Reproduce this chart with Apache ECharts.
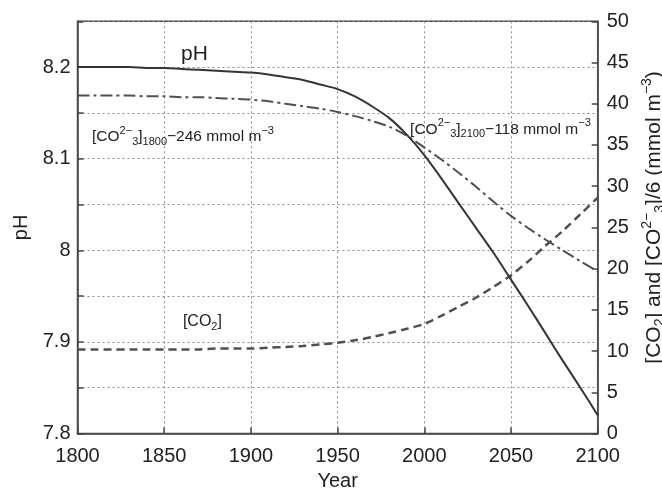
<!DOCTYPE html>
<html>
<head>
<meta charset="utf-8">
<script src="https://cdn.jsdelivr.net/npm/echarts@6/dist/echarts.min.js"></script>
<style>html,body{margin:0;padding:0;background:#fff;}#c{width:662px;height:491px;}</style>
</head>
<body>
<div id="c"></div>
<script>
// ---- data ----
var years = [1800,1810,1820,1830,1840,1850,1860,1870,1880,1890,1900,1910,1920,1930,1940,1950,1960,1970,1980,1990,2000,2010,2020,2030,2040,2050,2060,2070,2080,2090,2100];
var pH = [8.200,8.200,8.200,8.200,8.199,8.199,8.198,8.197,8.196,8.195,8.194,8.192,8.189,8.186,8.181,8.176,8.168,8.157,8.144,8.126,8.104,8.078,8.051,8.024,7.997,7.968,7.939,7.909,7.879,7.850,7.820];
var carbonate6 = [41.0,41.0,41.0,41.0,40.9,40.9,40.8,40.8,40.7,40.6,40.5,40.3,40.0,39.7,39.4,39.0,38.5,37.9,37.2,36.1,34.7,33.2,31.6,29.9,28.1,26.4,24.9,23.5,22.2,20.9,19.7];
var co2 = [10.2,10.2,10.2,10.2,10.2,10.2,10.2,10.2,10.3,10.3,10.3,10.4,10.5,10.6,10.8,11.0,11.3,11.7,12.2,12.7,13.3,14.3,15.4,16.5,17.8,19.2,20.9,22.8,24.6,26.6,28.6];
var xTicks = [1800,1850,1900,1950,2000,2050,2100];

function pairs(v){ return years.map(function(y,i){ return [y, v[i]]; }); }

var FONT = 'Liberation Sans, Arial, sans-serif';
var chart = echarts.init(document.getElementById('c'), null, {renderer:'canvas'});

var supSub = {
  sup: {fontSize: 11, fontFamily: FONT, color:'#222', padding:[0,0,12,0]},
  sub: {fontSize: 11, fontFamily: FONT, color:'#222', padding:[10,0,0,0]}
};
var supSubBig = {
  sup: {fontSize: 14, fontFamily: FONT, color:'#222', padding:[0,0,14,0]},
  sub: {fontSize: 14, fontFamily: FONT, color:'#222', padding:[12,0,0,0]}
};

chart.setOption({
  animation: false,
  backgroundColor: '#fff',
  grid: {left: 77.5, right: 64.3, top: 21.3, bottom: 57.5, containLabel: false, outerBoundsMode: 'none',
         show: true, borderColor: '#444', borderWidth: 1.5, backgroundColor: 'transparent'},
  xAxis: {
    type: 'value', min: 1800, max: 2100, interval: 50,
    name: 'Year', nameLocation: 'middle', nameGap: 37,
    nameTextStyle: {fontSize: 20, fontFamily: FONT, color: '#222'},
    axisLine: {show: true, lineStyle: {color: '#444', width: 1.5}},
    axisTick: {show: true, inside: true, length: 6, lineStyle: {color: '#444', width: 1.5}},
    axisLabel: {fontSize: 20, fontFamily: FONT, color: '#222', margin: 13,
      formatter: function(v){ return xTicks.indexOf(v) >= 0 ? String(v) : ''; }},
    splitLine: {show: true, lineStyle: {color: '#8a8a8a', type: [2,3], width: 1}}
  },
  yAxis: [{
    type: 'value', min: 7.8, max: 8.25, interval: 0.05, position: 'left',
    name: 'pH', nameLocation: 'middle', nameGap: 46,
    nameTextStyle: {fontSize: 20, fontFamily: FONT, color: '#222'},
    axisLine: {show: true, lineStyle: {color: '#444', width: 1.5}},
    axisTick: {show: true, inside: true, length: 6, lineStyle: {color: '#444', width: 1.5}},
    axisLabel: {fontSize: 20, fontFamily: FONT, color: '#222', margin: 7,
      formatter: function(v){
        var t = Math.round(v*10);
        if (Math.abs(v*10 - t) > 1e-6 || v > 8.21) return '';
        var s = (t/10).toFixed(1);
        return s.replace(/\.0$/, '');
      }},
    splitLine: {show: true, lineStyle: {color: '#8a8a8a', type: [2,3], width: 1}}
  }, {
    type: 'value', min: 0, max: 50, interval: 5, position: 'right',
    name: '[CO{sub|2}] and [CO{sup|2−}{sub|3}]/6 (mmol m{sup|−3})',
    nameLocation: 'middle', nameGap: 42,
    nameTextStyle: {fontSize: 21, fontFamily: FONT, color: '#222', rich: supSubBig, padding: [0,0,0,20]},
    axisLine: {show: true, lineStyle: {color: '#444', width: 1.5}},
    axisTick: {show: true, inside: true, length: 6, lineStyle: {color: '#444', width: 1.5}},
    axisLabel: {fontSize: 20, fontFamily: FONT, color: '#222', margin: 9},
    splitLine: {show: false}
  }],
  series: [{
    name: 'pH', type: 'line', yAxisIndex: 0, data: pairs(pH), showSymbol: false, smooth: 0.3,
    lineStyle: {color: '#353535', width: 2}, z: 5
  }, {
    name: 'CO3', type: 'line', yAxisIndex: 1, data: pairs(carbonate6), showSymbol: false, smooth: 0.3,
    lineStyle: {color: '#505050', width: 2, type: [12,4,3,4]}, z: 4
  }, {
    name: 'CO2', type: 'line', yAxisIndex: 1, data: pairs(co2), showSymbol: false, smooth: 0.3,
    lineStyle: {color: '#505050', width: 2.5, type: [8,5]}, z: 4
  }]
});

// annotations positioned in data coordinates
function px(x, y){ return chart.convertToPixel({xAxisIndex:0, yAxisIndex:0}, [x, y]); }
var pPH = px(1859.7, 8.214);
var pL1 = px(1808.4, 8.124);
var pL2 = px(1991.8, 8.132);
var pCO2 = px(1860.8, 7.922);
function txt(p, text, size, rich){
  return {type:'text', x: p[0], y: p[1], z: 10,
    style: {text: text, fontSize: size, fontFamily: FONT, fill: '#222', verticalAlign: 'middle', align: 'left', rich: rich}};
}
chart.setOption({graphic: [
  txt(pPH, 'pH', 21, {}),
  txt(pL1, '[CO{sup|2−}{sub|3}]{sub|1800}−246 mmol m{sup|−3}', 15.5, supSub),
  txt(pL2, '[CO{sup|2−}{sub|3}]{sub|2100}−118 mmol m{sup|−3}', 15.5, supSub),
  txt(pCO2, '[CO{sub|2}]', 16, supSub)
]});
</script>
</body>
</html>
